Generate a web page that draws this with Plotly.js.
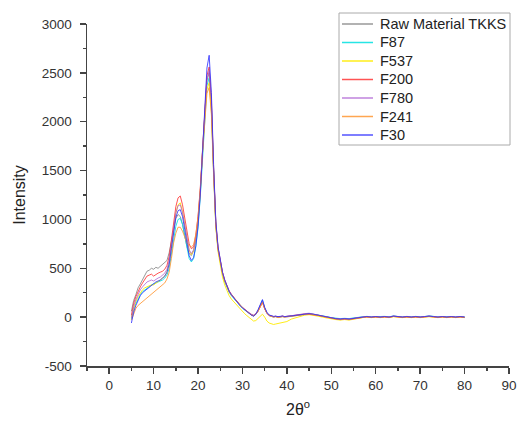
<!DOCTYPE html>
<html>
<head>
<meta charset="utf-8">
<script src="https://cdn.plot.ly/plotly-3.0.1.min.js"></script>
<style>html,body{margin:0;padding:0;background:#fff;}#chart{width:518px;height:421px;}</style>
</head>
<body>
<div id="chart"></div>
<script>
// 2-theta sampling (degrees)
const twoTheta = [5,5.5,6,6.5,7,7.5,8,8.5,9,9.5,10,10.5,11,11.5,12,12.5,13,13.5,14,14.5,15,15.5,16,16.5,17,17.5,18,18.5,19,19.5,20,20.5,21,21.5,22,22.5,23,23.5,24,24.5,25,25.5,26,26.5,27,27.5,28,28.5,29,29.5,30,30.5,31,31.5,32,32.5,33,33.5,34,34.5,35,35.5,36,36.5,37,37.5,38,38.5,39,39.5,40,
41,42,43,44,45,46,47,48,49,50,51,52,53,54,55,56,57,58,59,60,61,62,63,64,65,66,67,68,69,70,71,72,73,74,75,76,77,78,79,80];

const seriesNames = ["Raw Material TKKS","F87","F537","F200","F780","F241","F30"];
const seriesColors = ["rgba(128,128,128,0.8)","rgba(0,225,225,0.85)","rgba(255,235,0,0.9)","rgba(255,40,40,0.8)","rgba(170,90,210,0.75)","rgba(255,150,50,0.85)","rgba(40,40,255,0.8)"];

const yTickVals = [-500,0,500,1000,1500,2000,2500,3000];
const yTickText = ["-500","0","500","1000","1500","2000","2500","3000"];

const rawTKKS = [60,170,230,300,340,380,430,470,480,500,490,510,500,520,530,550,580,660,790,920,1010,1050,1030,950,830,720,650,630,680,790,970,1270,1700,2100,2420,2500,2180,1500,950,700,560,450,370,310,260,225,200,170,140,115,95,75,58,40,22,15,30,60,110,160,90,40,15,5,0,5,-5,0,5,0,5,
10,15,25,30,35,30,20,10,0,-10,-15,-20,-15,-20,-10,-5,0,5,0,5,0,5,0,10,5,0,5,0,5,0,5,10,5,0,5,0,5,0,5,0];
const f87 = [-20,80,140,190,230,260,280,300,310,330,340,350,360,370,380,400,430,500,640,800,930,1000,1010,950,830,700,600,565,600,720,920,1230,1650,2050,2370,2450,2150,1480,940,690,550,440,360,300,255,220,195,165,135,110,90,72,55,38,20,12,28,65,120,175,95,45,20,8,5,8,0,5,8,5,10,
12,18,22,30,32,28,22,12,5,-5,-10,-15,-12,-15,-8,-3,2,8,3,6,2,8,3,12,6,2,6,3,8,2,6,12,8,2,6,3,6,2,6,3];
const f537 = [0,90,160,210,250,280,300,310,320,330,330,350,370,380,400,420,460,560,720,900,1060,1150,1170,1080,940,790,680,640,680,800,990,1280,1680,2060,2330,2400,2100,1450,920,670,520,410,330,270,220,185,160,130,100,75,55,35,15,-5,-25,-40,-35,-15,10,30,0,-40,-60,-70,-75,-70,-65,-60,-55,-50,-45,
-20,-5,10,20,25,20,10,0,-10,-20,-25,-30,-25,-30,-20,-10,-5,0,-5,0,-5,0,-5,5,0,-5,0,-5,0,-5,0,5,0,-5,0,-5,0,-5,0,-5];
const f200 = [20,140,210,270,310,350,390,420,430,440,420,440,450,460,470,490,530,620,780,960,1130,1220,1240,1150,1000,850,750,700,720,840,1030,1320,1740,2150,2470,2560,2230,1530,970,710,570,460,380,320,270,235,205,175,145,120,100,80,60,42,25,15,32,62,115,150,85,40,18,10,5,8,0,5,10,5,8,
15,20,28,32,30,26,18,8,-2,-12,-18,-25,-20,-25,-15,-8,-2,3,-2,3,-2,3,-2,8,3,-2,3,-2,3,-2,3,8,3,-2,3,-2,3,-2,3,-2];
const f780 = [-10,110,180,240,280,310,340,360,370,380,370,390,400,410,430,450,490,580,740,920,1070,1140,1150,1070,930,790,690,650,690,810,1000,1300,1720,2120,2440,2520,2200,1510,960,710,570,460,380,320,265,230,200,170,140,118,98,78,60,45,30,22,35,70,120,165,95,45,20,10,5,10,2,6,10,4,8,
14,20,28,36,40,34,22,12,2,-8,-14,-18,-14,-18,-10,-4,2,6,2,6,2,6,2,12,6,2,8,2,6,2,6,12,6,2,6,2,6,2,6,2];
const f241 = [-30,40,90,120,140,160,176,190,210,230,260,270,290,310,330,350,390,460,600,760,860,920,920,880,820,760,730,720,740,850,1030,1300,1680,2020,2290,2350,2080,1450,930,690,560,450,370,310,262,228,200,172,142,118,96,76,58,40,22,14,30,60,110,150,85,38,15,5,0,5,-5,0,5,0,5,
8,14,22,28,32,28,18,8,-4,-14,-20,-26,-22,-26,-16,-10,-4,2,-4,2,-4,2,-4,6,2,-4,2,-4,2,-4,2,6,2,-4,2,-4,2,-4,2,-4];
const f30 = [-60,50,120,180,220,250,270,290,310,330,350,360,370,380,400,420,460,540,700,880,1020,1090,1100,1030,900,740,630,580,610,730,930,1250,1700,2150,2550,2680,2300,1560,980,720,570,460,380,320,265,230,200,170,140,115,95,75,57,40,20,10,30,75,130,180,100,50,22,12,8,10,5,8,12,6,10,
12,18,26,32,36,30,20,10,0,-10,-16,-20,-16,-20,-12,-6,0,6,0,6,0,6,0,10,6,0,6,0,6,0,6,10,6,0,6,0,6,0,6,0];

const seriesValues = [rawTKKS,f87,f537,f200,f780,f241,f30];

const traces = seriesValues.map((v,i)=>({
  x: twoTheta, y: v, type:'scatter', mode:'lines', name: seriesNames[i], showlegend:false,
  line:{color: seriesColors[i], width:1}
}));

const FONT = 'Liberation Sans, Arial, sans-serif';
const W = 518, H = 421, M = {l:87, r:9, t:24, b:55};
const PW = W - M.l - M.r, PH = H - M.t - M.b;
const px2x = p => (p - M.l) / PW;
const py2y = p => (H - M.b - p) / PH;

// Legend box drawn in the reference style (white box, thin grey border)
const shapes = [{type:'rect', xref:'paper', yref:'paper', x0:px2x(339), x1:px2x(510), y0:py2y(145), y1:py2y(13),
  line:{color:'#aaa', width:1}, fillcolor:'#fff', layer:'above'}];
const annotations = [];
const rowStep = 18.5, row0 = 24;
seriesNames.forEach((n,i)=>{
  const py = row0 + i*rowStep;
  shapes.push({type:'line', xref:'paper', yref:'paper', x0:px2x(342), x1:px2x(373), y0:py2y(py), y1:py2y(py),
    line:{color:seriesColors[i], width:1.5}, layer:'above'});
  annotations.push({xref:'paper', yref:'paper', x:px2x(378), y:py2y(py), xanchor:'left', yanchor:'middle',
    text:n, showarrow:false, font:{family:FONT, size:14.5, color:'#222'}});
});

const axisCommon = {
  showline:true, linecolor:'#444', linewidth:1.5, ticks:'outside', ticklen:6, tickwidth:1.5, tickcolor:'#444',
  showgrid:false, zeroline:false, tickfont:{family:FONT, size:13.5, color:'#333'}, mirror:false
};

const layout = {
  width:W, height:H,
  margin:M,
  paper_bgcolor:'#fff', plot_bgcolor:'#fff',
  showlegend:false,
  shapes:shapes, annotations:annotations,
  xaxis: Object.assign({}, axisCommon, {range:[-5,90], tick0:0, dtick:10,
    minor:{ticks:'outside', dtick:5, tick0:0, ticklen:3, tickcolor:'#444', tickwidth:1.5},
    title:{text:'2θ<sup>o</sup>', font:{family:FONT, size:16, color:'#222'}, standoff:12}}),
  yaxis: Object.assign({}, axisCommon, {range:[-500,3000], tickmode:'array', tickvals:yTickVals, ticktext:yTickText, ticklabelstandoff:5,
    minor:{ticks:'outside', dtick:250, tick0:0, ticklen:3, tickcolor:'#444', tickwidth:1.5},
    title:{text:'Intensity', font:{family:FONT, size:16, color:'#222'}, standoff:12}})
};

Plotly.newPlot('chart', traces, layout, {displayModeBar:false, staticPlot:true});
</script>
</body>
</html>
